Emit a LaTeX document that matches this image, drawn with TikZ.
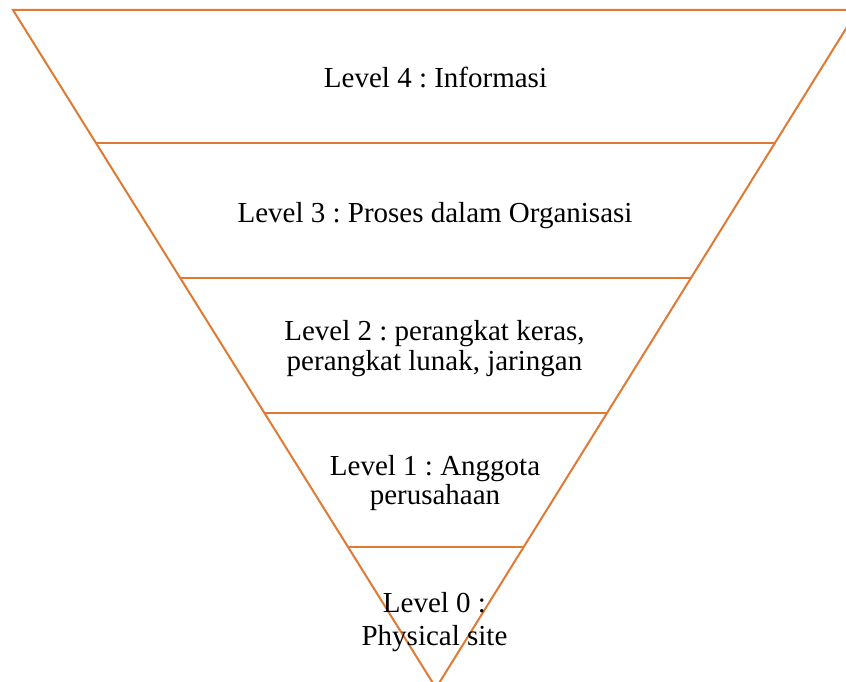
\documentclass[tikz,border=0pt]{standalone}
\usepackage{fontspec}
\setmainfont{Liberation Serif}
\frenchspacing
\definecolor{pyrorange}{RGB}{224,121,51}
\begin{document}
\begin{tikzpicture}[x=1pt,y=-1pt,
  edge/.style={draw=pyrorange,line width=2pt,line join=miter},
  label/.style={font=\frenchspacing\fontsize{29}{30}\selectfont,align=center,anchor=base,inner sep=0pt,text=black}]
\useasboundingbox (0,0) rectangle (846,682);
\clip (0,0) rectangle (846,682);
% corners
\coordinate (tl) at (13,10);
\coordinate (tr) at (857.6,10);
\coordinate (apex) at (436,688);
\coordinate (l3) at (96,143);   \coordinate (r3) at (775,143);
\coordinate (l2) at (180,278);  \coordinate (r2) at (691,278);
\coordinate (l1) at (264,412.5);\coordinate (r1) at (607,412.5);
\coordinate (l0) at (348,547);  \coordinate (r0) at (524,547);
% outline
\draw[edge] (tl) -- (tr) -- (apex) -- cycle;
% level separators
\draw[edge] (l3) -- (r3);
\draw[edge] (l2) -- (r2);
\draw[edge] (l1) -- (r1);
\draw[edge] (l0) -- (r0);
% labels (base anchor = baseline of the last line)
\node[label] (lv4) at (435.5,88) {Level 4 : Informasi};
\node[label] (lv3) at (435,222) {Level 3 : Proses dalam Organisasi};
\node[label] (lv2) at (434.5,370) {Level 2 : perangkat keras,\\perangkat lunak, jaringan};
\node[label] (lv1) at (435,504) {Level 1 : Anggota\\[-1pt]perusahaan};
\node[label] (lv0) at (434.5,645) {Level 0 :\\[3pt]Physical site};
\end{tikzpicture}
\end{document}
